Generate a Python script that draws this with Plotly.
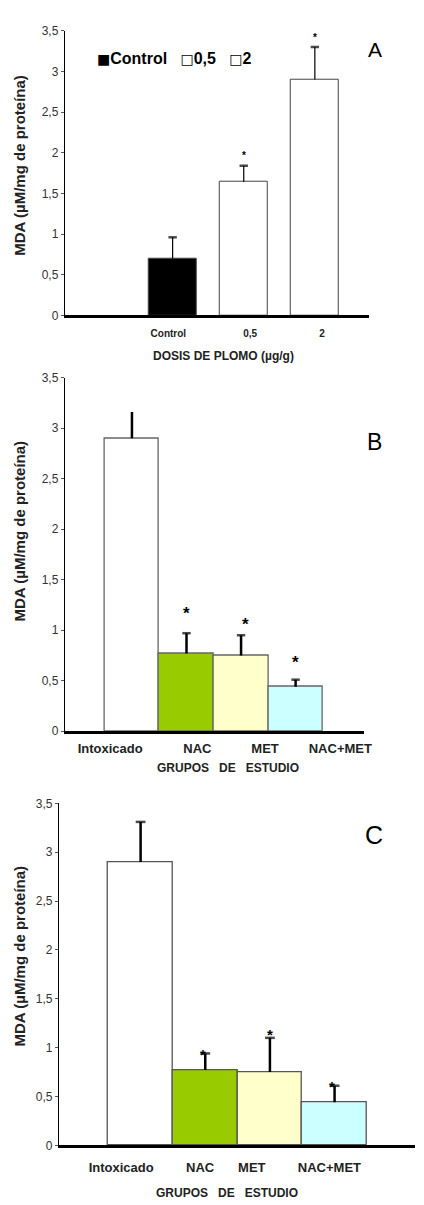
import plotly.graph_objects as go

W, H = 424, 1205

# ---------------- data ----------------
# Panel A: lead dose
dose_labels = ["Control", "0,5", "2"]
dose_mda = [0.70, 1.64, 2.90]
dose_err = [0.26, 0.20, 0.40]
dose_sig = ["", "*", "*"]
dose_colors = ["#000000", "#FFFFFF", "#FFFFFF"]

# Panel B: study groups
group_labels = ["Intoxicado", "NAC", "MET", "NAC+MET"]
b_mda = [2.90, 0.77, 0.75, 0.44]
b_err = [0.26, 0.20, 0.20, 0.07]
b_sig = ["", "*", "*", "*"]

# Panel C: study groups
c_mda = [2.90, 0.77, 0.75, 0.44]
c_err = [0.41, 0.17, 0.35, 0.17]
c_sig = ["", "*", "*", "*"]

group_colors = ["#FFFFFF", "#99CC00", "#FFFFCC", "#CCFFFF"]

y_ticks = [0, 0.5, 1, 1.5, 2, 2.5, 3, 3.5]
y_tick_labels = ["0", "0,5", "1", "1,5", "2", "2,5", "3", "3,5"]

y_title = "MDA (µM/mg de proteína)"
a_xtitle = "DOSIS DE PLOMO (µg/g)"
bc_xtitle = "GRUPOS\u00a0\u00a0\u00a0DE\u00a0\u00a0\u00a0ESTUDIO"

FONT = "Arial, 'Liberation Sans', sans-serif"


def fx(p):
    return p / W


def fy(p):
    return 1 - p / H


fig = go.Figure()

panels = [
    dict(name="A", xa="x", ya="y", labels=dose_labels, vals=dose_mda, errs=dose_err,
         sig=dose_sig, colors=dose_colors, pos=[i + 1 for i in range(len(dose_labels))],
         width=0.676, ethick=1.2, caps=[6, 6, 6], capw=2.5, line="#444444", lw=1),
    dict(name="B", xa="x2", ya="y2", labels=group_labels, vals=b_mda, errs=b_err,
         sig=b_sig, colors=group_colors, pos=list(range(len(group_labels))),
         width=1.0, ethick=2.5, caps=[0, 6, 6, 6], capw=2.5, line="#666666", lw=1.3),
    dict(name="C", xa="x3", ya="y3", labels=group_labels, vals=c_mda, errs=c_err,
         sig=c_sig, colors=group_colors, pos=list(range(len(group_labels))),
         width=1.0, ethick=2.5, caps=[7, 7, 7, 7], capw=2.5, line="#555555", lw=1.3),
]

for p in panels:
    fig.add_trace(go.Bar(
        x=p["pos"], y=p["vals"], width=p["width"],
        marker=dict(color=p["colors"], line=dict(color=p["line"], width=p["lw"])),
        xaxis=p["xa"], yaxis=p["ya"], showlegend=False,
        customdata=p["labels"], textposition="none",
        hovertemplate="%{customdata}: %{y}<extra></extra>",
    ))
    # one-sided (upper) error bars: stems from bar top to bar top + error
    sx, sy = [], []
    for xp, v, e in zip(p["pos"], p["vals"], p["errs"]):
        sx += [xp, xp, None]
        sy += [v, v + e, None]
    fig.add_trace(go.Scatter(
        x=sx, y=sy, mode="lines", line=dict(color="black", width=p["ethick"]),
        xaxis=p["xa"], yaxis=p["ya"], showlegend=False, hoverinfo="skip",
    ))
    fig.add_trace(go.Scatter(
        x=p["pos"], y=[v + e for v, e in zip(p["vals"], p["errs"])], mode="markers",
        marker=dict(symbol="line-ew", size=p["caps"], color="black",
                    line=dict(color="black", width=p["capw"])),
        xaxis=p["xa"], yaxis=p["ya"], showlegend=False, hoverinfo="skip",
    ))

# layout geometry (pixel based)
geo = {
    "A": dict(x0=66, x1=376, y0=24, y1=312, xr=[-0.517, 3.76],
              tv=[0.94, 2.09, 3.10], tlen=7, tfs=10, letter=(382, 43, 21),
              xt=(228, 353), yt=(20, 160), star=[0, 10, 9], starfs=10, starx=[0, 0, 0]),
    "B": dict(x0=66, x1=371, y0=375, y1=732.7, xr=[-1.232, 4.254],
              tv=[-0.40, 1.20, 2.44, 3.82], tlen=3, tfs=13, letter=(382, 440, 23),
              xt=(232, 770), yt=(20, 530), star=[0, 20, 11, 17], starfs=17, starx=[0, 0, 4, 0]),
    "C": dict(x0=60, x1=423, y0=805.7, y1=1151.7, xr=[-1.264, 4.244],
              tv=[-0.30, 0.92, 1.72, 2.92], tlen=8, tfs=13, letter=(381, 838, 25),
              xt=(231, 1200), yt=(20, 960), star=[0, -1, 3, -1], starfs=15, starx=[-2, -2, 0, -3]),
}

annotations = []
for i, p in enumerate(panels):
    g = geo[p["name"]]
    suffix = "" if i == 0 else str(i + 1)
    fig.layout["xaxis" + suffix] = dict(
        domain=[fx(g["x0"]), fx(g["x1"])], range=g["xr"], anchor="y" + suffix,
        showline=True, linecolor="black", linewidth=2.5, showgrid=False, zeroline=False,
        tickvals=g["tv"], ticktext=p["labels"], ticks="outside", ticklen=g["tlen"],
        tickcolor="rgba(0,0,0,0)",
        tickfont=dict(family=FONT, size=g["tfs"], color="#222222", weight="bold"),
        fixedrange=True,
    )
    fig.layout["yaxis" + suffix] = dict(
        domain=[fy(g["y1"]), fy(g["y0"])], range=[0, 3.5], anchor="x" + suffix,
        showline=True, linecolor="black", linewidth=1, showgrid=False, zeroline=False,
        tickvals=y_ticks, ticktext=y_tick_labels, ticks="outside", ticklen=3,
        tickcolor="#555555", tickwidth=1,
        tickfont=dict(family=FONT, size=12, color="#333333"),
        fixedrange=True,
    )
    lx, ly, ls = g["letter"]
    annotations.append(dict(text=p["name"], x=fx(lx), y=fy(ly), xref="paper", yref="paper",
                            showarrow=False, xanchor="center", yanchor="middle",
                            font=dict(family=FONT, size=ls, color="black")))
    annotations.append(dict(text=a_xtitle if i == 0 else bc_xtitle,
                            x=fx(g["xt"][0]), y=fy(g["xt"][1]), xref="paper", yref="paper",
                            showarrow=False, xanchor="center", yanchor="middle",
                            font=dict(family=FONT, size=12, color="#222222", weight="bold")))
    annotations.append(dict(text=y_title, x=fx(g["yt"][0]), y=fy(g["yt"][1]),
                            xref="paper", yref="paper", textangle=-90,
                            showarrow=False, xanchor="center", yanchor="middle",
                            font=dict(family=FONT, size=15, color="#222222", weight="bold")))
    for j, s in enumerate(p["sig"]):
        if s:
            annotations.append(dict(text=s, x=p["pos"][j], y=p["vals"][j] + p["errs"][j],
                                    xref="x" + suffix, yref="y" + suffix, showarrow=False,
                                    xanchor="center", yanchor="middle",
                                    yshift=g["star"][j], xshift=g["starx"][j],
                                    font=dict(family=FONT, size=g["starfs"], color="black",
                                              weight="bold")))

# legend for panel A (compact text legend as in the original)
sq = "<span style='font-family:DejaVu Sans;font-size:14px'>{}</span>"
annotations.append(dict(
    text=sq.format("■") + "Control\u00a0\u00a0\u00a0" + sq.format("□") + "0,5\u00a0\u00a0\u00a0"
    + sq.format("□") + "2",
    x=fx(97), y=fy(52), xref="paper", yref="paper", showarrow=False,
    xanchor="left", yanchor="middle",
    font=dict(family=FONT, size=16, color="black", weight="bold")))

fig.update_layout(
    width=W, height=H, autosize=False,
    margin=dict(l=0, r=0, t=0, b=0),
    paper_bgcolor="white", plot_bgcolor="white",
    separators=",.",
    bargap=0,
    annotations=annotations,
    showlegend=False,
    font=dict(family=FONT),
)

fig.write_html("out.html", config={"displayModeBar": False},
               post_script="document.body.style.margin='0';document.body.style.overflow='hidden';")
